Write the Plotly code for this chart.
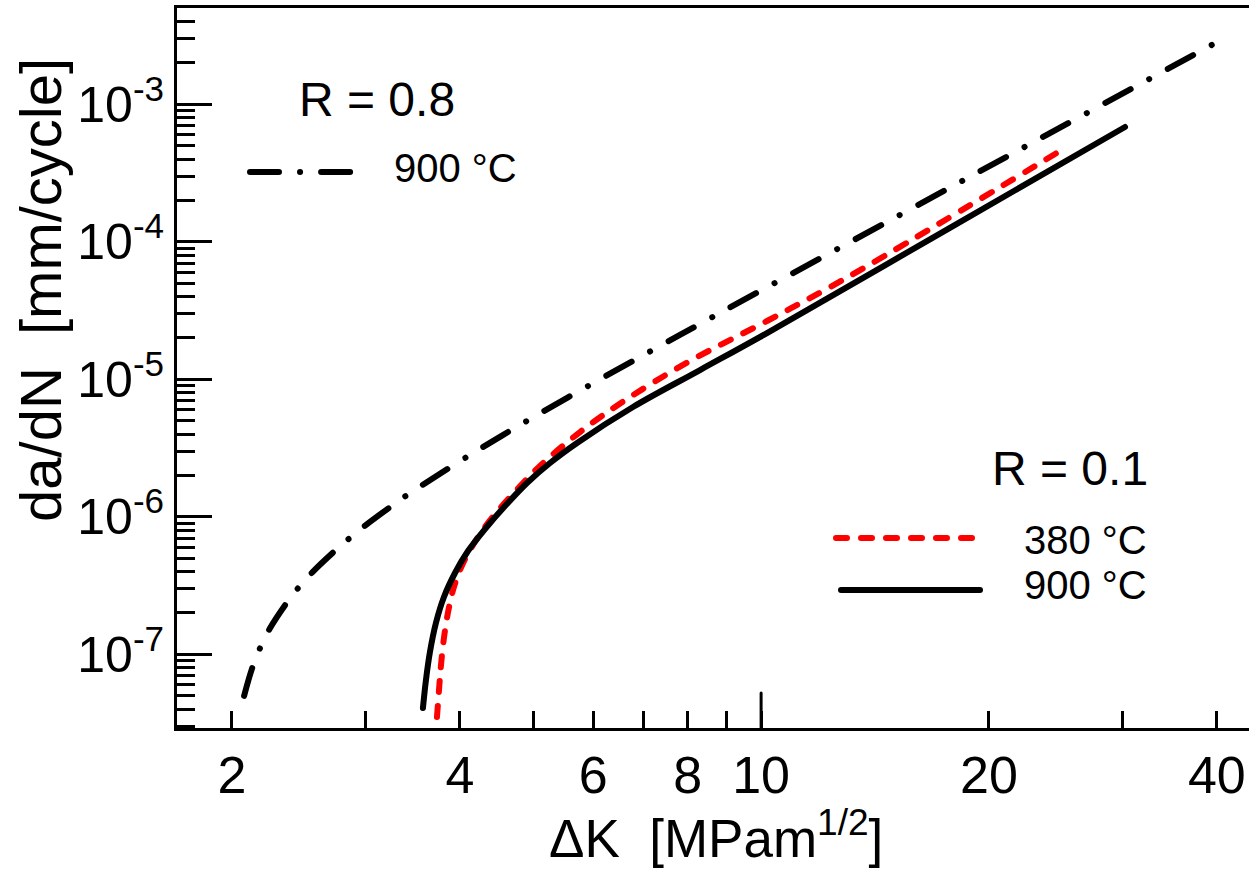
import math
import plotly.graph_objects as go

# ---- crack growth curves (ΔK in MPa·m^1/2, da/dN in mm/cycle) ----
# R = 0.8, 900 °C
dk_r08_900 = [2.075, 2.126, 2.178, 2.245, 2.372, 2.460, 2.559, 2.753, 2.881, 3.043,
              3.264, 3.437, 4.151, 4.995, 6.069, 7.353, 8.906, 15.26, 24.82, 39.54]
dadn_r08_900 = [4.98e-8, 7.90e-8, 1.108e-7, 1.547e-7, 2.443e-7, 3.15e-7, 3.994e-7, 5.835e-7,
                7.228e-7, 9.173e-7, 1.218e-6, 1.487e-6, 2.877e-6, 5.281e-6, 9.718e-6,
                1.748e-5, 3.124e-5, 1.571e-4, 6.763e-4, 2.734e-3]

# R = 0.1, 380 °C
dk_r01_380 = [3.731, 3.754, 3.777, 3.811, 3.859, 3.918, 4.002, 4.125, 4.279, 4.465,
              4.701, 5.104, 5.765, 6.65, 8.055, 10.18, 13.1, 25.2]
dadn_r01_380 = [3.50e-8, 5.50e-8, 8.36e-8, 1.314e-7, 2.03e-7, 2.935e-7, 4.10e-7, 5.73e-7,
                7.88e-7, 1.066e-6, 1.465e-6, 2.342e-6, 4.137e-6, 7.19e-6, 1.358e-5,
                2.655e-5, 5.64e-5, 4.81e-4]

# R = 0.1, 900 °C
dk_r01_900 = [3.575, 3.608, 3.652, 3.719, 3.811, 3.941, 4.100, 4.318, 4.589, 4.906,
              5.262, 5.713, 6.772, 8.304, 10.18, 17.55, 30.25]
dadn_r01_900 = [4.07e-8, 6.50e-8, 1.039e-7, 1.689e-7, 2.61e-7, 3.902e-7, 5.64e-7, 8.15e-7,
                1.198e-6, 1.761e-6, 2.461e-6, 3.441e-6, 6.29e-6, 1.168e-5, 2.17e-5,
                1.218e-4, 6.84e-4]

# ---- axis ticks ----
x_tickvals = [2, 4, 6, 8, 10, 20, 40]
x_ticktext = ["2", "4", "6", "8", "10", "20", "40"]
x_minorvals = [3, 5, 7, 9, 30]
x_long_tick = 10

y_decades = [-7, -6, -5, -4, -3]
y_tickvals = [10.0 ** e for e in y_decades]
y_ticktext = ["10<sup>%d</sup>" % e for e in y_decades]
y_minorvals = [m * 10.0 ** e for e in range(-8, -2) for m in range(2, 10)]

X_RANGE = [0.2284, 1.6445]      # log10 ΔK
Y_RANGE = [-7.536, -2.2996]     # log10 da/dN

W, H = 1249, 869
ML, MR, MT, MB = 177, 0, 8, 141
PW, PH = W - ML - MR, H - MT - MB

FONT = "Liberation Sans, Arial, Helvetica, sans-serif"


def px(x):
    return (x - ML) / PW


def py(y):
    return (H - MB - y) / PH


DASHDOT = "29px,21px,0.1px,21px"
RED_DASH = "11px,14px"
LW = 6
LINE_SHAPE = dict(shape="spline", smoothing=1.0)

fig = go.Figure()
fig.add_trace(go.Scatter(x=dk_r08_900, y=dadn_r08_900, mode="lines",
                         line=dict(color="black", width=LW, dash=DASHDOT, **LINE_SHAPE),
                         name="R = 0.8, 900 °C"))
fig.add_trace(go.Scatter(x=dk_r01_380, y=dadn_r01_380, mode="lines",
                         line=dict(color="#ff0000", width=LW, dash=RED_DASH, **LINE_SHAPE),
                         name="R = 0.1, 380 °C"))
fig.add_trace(go.Scatter(x=dk_r01_900, y=dadn_r01_900, mode="lines",
                         line=dict(color="black", width=LW, **LINE_SHAPE),
                         name="R = 0.1, 900 °C"))

fig.update_layout(
    template="none",
    width=W, height=H,
    margin=dict(l=ML, r=MR, t=MT, b=MB, pad=0),
    paper_bgcolor="white", plot_bgcolor="white",
    showlegend=False,
    font=dict(family=FONT, color="black"),
    xaxis=dict(
        type="log", range=X_RANGE, automargin=False,
        showgrid=False, zeroline=False,
        showline=True, linecolor="black", linewidth=3, mirror=True,
        tickmode="array", tickvals=x_tickvals, ticktext=x_ticktext,
        ticks="inside", ticklen=17, tickwidth=3, tickcolor="black",
        tickfont=dict(family=FONT, size=52, color="black"),
        tickangle=0,
        minor=dict(tickmode="array", tickvals=x_minorvals, ticks="inside",
                   ticklen=17, tickwidth=3, tickcolor="black", showgrid=False),
    ),
    yaxis=dict(
        type="log", range=Y_RANGE, automargin=False,
        showgrid=False, zeroline=False,
        showline=True, linecolor="black", linewidth=3, mirror=False,
        tickmode="array", tickvals=y_tickvals, ticktext=y_ticktext,
        ticks="inside", ticklen=35, tickwidth=3, tickcolor="black",
        tickfont=dict(family=FONT, size=50, color="black"),
        minor=dict(tickmode="array", tickvals=y_minorvals, ticks="inside",
                   ticklen=18, tickwidth=3, tickcolor="black", showgrid=False),
    ),
)

# longer tick at ΔK = 10
x10 = (math.log10(x_long_tick) - X_RANGE[0]) / (X_RANGE[1] - X_RANGE[0])
fig.add_shape(type="line", xref="paper", yref="paper", x0=x10, x1=x10,
              y0=0, y1=35 / PH, line=dict(color="black", width=3))

# axis titles
fig.add_annotation(text="ΔK  [MPam<sup>1/2</sup>]", xref="paper", yref="paper",
                   x=px(716), y=py(835), showarrow=False,
                   font=dict(family=FONT, size=53, color="black"),
                   xanchor="center", yanchor="middle")
fig.add_annotation(text="da/dN  [mm/cycle]", xref="paper", yref="paper",
                   x=px(40), y=py(290), showarrow=False, textangle=-90,
                   font=dict(family=FONT, size=58, color="black"),
                   xanchor="center", yanchor="middle")

# legend: R = 0.8
fig.add_annotation(text="R = 0.8", xref="paper", yref="paper", x=px(377), y=py(99),
                   showarrow=False, font=dict(family=FONT, size=48, color="black"),
                   xanchor="center", yanchor="middle")
fig.add_shape(type="line", xref="paper", yref="paper", x0=px(250), x1=px(353),
              y0=py(172), y1=py(172), line=dict(color="black", width=LW, dash=DASHDOT))
fig.add_annotation(text="900 °C", xref="paper", yref="paper", x=px(392), y=py(168),
                   showarrow=False, font=dict(family=FONT, size=40, color="black"),
                   xanchor="left", yanchor="middle")

# legend: R = 0.1
fig.add_annotation(text="R = 0.1", xref="paper", yref="paper", x=px(1070), y=py(469),
                   showarrow=False, font=dict(family=FONT, size=48, color="black"),
                   xanchor="center", yanchor="middle")
fig.add_shape(type="line", xref="paper", yref="paper", x0=px(836), x1=px(975),
              y0=py(538), y1=py(538), line=dict(color="#ff0000", width=LW, dash=RED_DASH))
fig.add_annotation(text="380 °C", xref="paper", yref="paper", x=px(1022), y=py(540),
                   showarrow=False, font=dict(family=FONT, size=40, color="black"),
                   xanchor="left", yanchor="middle")
fig.add_shape(type="line", xref="paper", yref="paper", x0=px(841), x1=px(980),
              y0=py(590), y1=py(590), line=dict(color="black", width=LW))
fig.add_annotation(text="900 °C", xref="paper", yref="paper", x=px(1022), y=py(585),
                   showarrow=False, font=dict(family=FONT, size=40, color="black"),
                   xanchor="left", yanchor="middle")

round_caps = (
    "var s=document.createElement('style');"
    "s.textContent='.scatterlayer .js-line, .shapelayer path{stroke-linecap:round !important;}';"
    "document.head.appendChild(s);"
)

fig.write_html("out.html", config={"displayModeBar": False}, post_script=round_caps)
